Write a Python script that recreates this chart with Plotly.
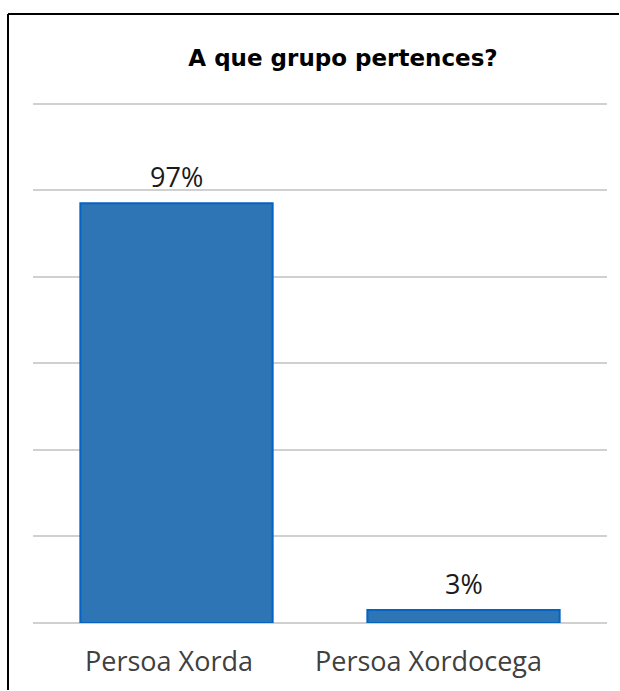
import plotly.graph_objects as go

categories = ["Persoa Xorda", "Persoa Xordocega"]
values = [97, 3]
labels = ["97%", "3%"]

W, H = 620, 691
L, R, T, B = 33, 13, 102, 68
pw, ph = W - L - R, H - T - B

def px(x):
    return (x - L) / pw

def py(y):
    return (H - B - y) / ph

fig = go.Figure()
fig.add_trace(go.Bar(
    x=categories, y=values,
    marker=dict(color="#2E75B6", line=dict(color="#0563C1", width=2)),
    width=0.67, hoverinfo="skip",
))

# value labels above bars
annotations = [
    dict(x=c, y=v, text=t, xref="x", yref="y", showarrow=False,
         yanchor="bottom", yshift=6,
         font=dict(family="Open Sans", size=27, color="#1a1a1a"))
    for c, v, t in zip(categories, values, labels)
]
# category labels (offset as in the reference)
cat_dx = [-8, -35]
annotations += [
    dict(x=c, y=0, text=c, xref="x", yref="y", showarrow=False,
         yanchor="middle", yshift=-37, xshift=dx,
         font=dict(family="Open Sans", size=27, color="#404040"))
    for c, dx in zip(categories, cat_dx)
]

fig.update_layout(
    width=W, height=H,
    margin=dict(l=L, r=R, t=T, b=B),
    paper_bgcolor="white", plot_bgcolor="white",
    showlegend=False, hovermode=False,
    title=dict(text="<b>A que grupo pertences?</b>", x=343 / W, xref="container",
               xanchor="center", y=1 - 58 / H, yref="container", yanchor="middle",
               font=dict(family="DejaVu Sans", size=23, color="black")),
    xaxis=dict(showgrid=False, showline=False, ticks="", showticklabels=False),
    yaxis=dict(range=[0, 120.4], tickvals=[0, 20, 40, 60, 80, 100, 120],
               showticklabels=False, showgrid=True,
               gridcolor="#D0D0D0", gridwidth=1.5, zeroline=True,
               zerolinecolor="#D0D0D0", zerolinewidth=1.5, showline=False),
    annotations=annotations,
    shapes=[
        dict(type="line", xref="paper", yref="paper", x0=px(8), x1=px(619), y0=py(14), y1=py(14),
             line=dict(color="black", width=2)),
        dict(type="line", xref="paper", yref="paper", x0=px(8), x1=px(8), y0=py(14), y1=py(690),
             line=dict(color="black", width=2)),
    ],
)

fig.write_html(
    "out.html",
    config={"displayModeBar": False},
    post_script="document.body.style.margin='0';document.body.style.overflow='hidden';",
)
